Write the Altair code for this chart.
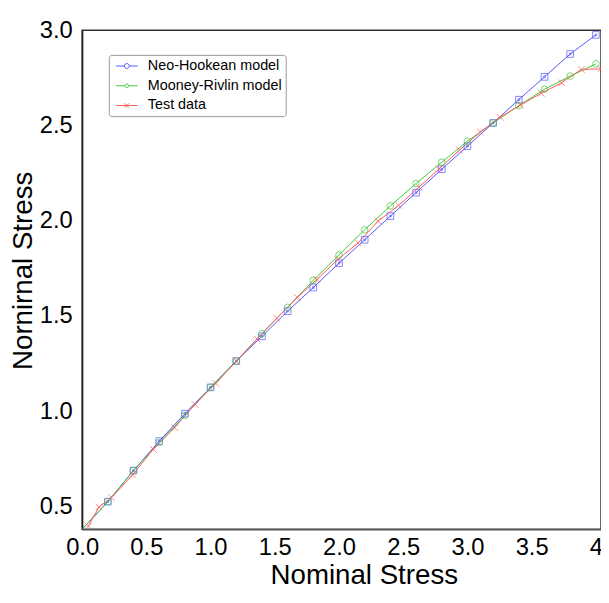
import altair as alt
import pandas as pd

NEO = "Neo-Hookean model"
MOON = "Mooney-Rivlin model"
TEST = "Test data"

model_x = [0.0, 0.2, 0.4, 0.6, 0.8, 1.0, 1.2, 1.4, 1.6, 1.8, 2.0,
           2.2, 2.4, 2.6, 2.8, 3.0, 3.2, 3.4, 3.6, 3.8, 4.0]
neo_y = [0.38, 0.525, 0.688, 0.843, 0.987, 1.125, 1.263, 1.393, 1.525, 1.649, 1.777,
         1.900, 2.024, 2.147, 2.270, 2.391, 2.513, 2.635, 2.755, 2.875, 2.975]
moon_y = [0.38, 0.525, 0.688, 0.835, 0.978, 1.125, 1.263, 1.407, 1.545, 1.687, 1.820,
          1.952, 2.078, 2.195, 2.307, 2.417, 2.513, 2.604, 2.690, 2.759, 2.823]
test_x = [0.048, 0.131, 0.228, 0.395, 0.554, 0.721, 0.879, 1.041, 1.202, 1.362, 1.515,
          1.675, 1.828, 1.990, 2.148, 2.305, 2.464, 2.623, 2.779, 2.938, 3.100, 3.254,
          3.413, 3.575, 3.733, 3.887, 4.04]
test_y = [0.396, 0.497, 0.546, 0.667, 0.800, 0.914, 1.035, 1.146, 1.263, 1.379, 1.488,
          1.597, 1.691, 1.796, 1.883, 1.998, 2.080, 2.176, 2.272, 2.370, 2.465, 2.543,
          2.607, 2.669, 2.724, 2.794, 2.797]

x_ticks = [0.0, 0.5, 1.0, 1.5, 2.0, 2.5, 3.0, 3.5, 4.0]
y_ticks = [0.5, 1.0, 1.5, 2.0, 2.5, 3.0]

series = [NEO, MOON, TEST]
colors = ["#5555ff", "#3cc83c", "#ff5a5a"]
marker_keys = [s + " markers" for s in series]
legend_paths = [
    "M-2,0H-0.45A0.45,0.45,0,1,1,0.45,0A0.45,0.45,0,1,1,-0.45,0M0.45,0H2",
    "M-2,0H-0.33A0.33,0.33,0,1,1,0.33,0A0.33,0.33,0,1,1,-0.33,0M0.33,0H2",
    "M-2,0H2M-0.4,-0.4L0.4,0.4M-0.4,0.4L0.4,-0.4",
]
marker_paths = [
    "M-1,-1H1V1H-1ZM-0.25,-0.25H0.25V0.25H-0.25Z",
    "circle",
    "M-1,-1L1,1M-1,1L1,-1",
]

rows = []
for x, y in zip(model_x, neo_y):
    rows.append({"series": NEO, "x": x, "y": y})
for x, y in zip(model_x, moon_y):
    rows.append({"series": MOON, "x": x, "y": y})
for x, y in zip(test_x, test_y):
    rows.append({"series": TEST, "x": x, "y": y})
df = pd.DataFrame(rows)
df["marker_key"] = df["series"] + " markers"
markers = df[df["x"] > 0.03]

color_scale = alt.Scale(domain=series + marker_keys, range=colors + colors)
shape_scale = alt.Scale(domain=series + marker_keys, range=legend_paths + marker_paths)

FONT = "Liberation Sans"

x_enc = alt.X(
    "x:Q",
    scale=alt.Scale(domain=[0, 4.04], nice=False, zero=False),
    axis=alt.Axis(
        title="Nominal Stress", values=x_ticks,
        labelExpr="datum.value == 4 ? '4' : format(datum.value, '.1f')",
        grid=False, ticks=False, tickSize=0, labelFlush=False,
        labelPadding=7, titlePadding=2, titleX=285,
        labelFontSize=24, titleFontSize=28, titleFontWeight="normal",
        labelFont=FONT, titleFont=FONT, labelColor="black", titleColor="black",
        domainColor="#555", domainWidth=1.5,
    ),
)
y_enc = alt.Y(
    "y:Q",
    scale=alt.Scale(domain=[0.38, 3.0], nice=False, zero=False),
    axis=alt.Axis(
        title="Nornirnal Stress", values=y_ticks, format=".1f",
        grid=False, ticks=False, tickSize=0, labelFlush=False, labelOverlap=False,
        labelPadding=10, titlePadding=2, titleY=243,
        labelFontSize=24, titleFontSize=28, titleFontWeight="normal",
        labelFont=FONT, titleFont=FONT, labelColor="black", titleColor="black",
        domainColor="#222", domainWidth=1.5,
    ),
)

leg = alt.Legend(
    title=None, orient="none", legendX=27, legendY=25, values=series,
    symbolSize=121, symbolStrokeWidth=1, symbolOpacity=1, symbolOffset=7,
    labelOffset=14, labelFontSize=14.5, labelFont=FONT, labelColor="black",
    padding=4, rowPadding=5, fillColor="white", strokeColor="#999",
    cornerRadius=3,
)

lines = alt.Chart(df).mark_line(strokeWidth=1, clip=True).encode(
    x=x_enc, y=y_enc,
    color=alt.Color("series:N", scale=color_scale, legend=None),
)
points = alt.Chart(markers).mark_point(filled=False, size=45, strokeWidth=1, clip=True).encode(
    x=x_enc, y=y_enc,
    color=alt.Color("marker_key:N", scale=color_scale, legend=None),
    shape=alt.Shape("marker_key:N", scale=shape_scale, legend=None),
)
legend_layer = alt.Chart(df).mark_point(filled=False, opacity=0, size=121, clip=True).encode(
    x=x_enc, y=y_enc,
    color=alt.Color("series:N", scale=color_scale, legend=leg),
    shape=alt.Shape("series:N", scale=shape_scale, legend=leg),
)

chart = alt.layer(lines, points, legend_layer).resolve_legend(
    color="independent", shape="independent"
).properties(
    width=525, height=505,
    autosize=alt.AutoSizeParams(type="none"),
    padding={"left": 75, "top": 19, "right": 0, "bottom": 58},
    background="white",
).configure_view(stroke="#333", strokeWidth=1.5)

chart.save("out.html", embed_options={"renderer": "svg", "actions": False})
